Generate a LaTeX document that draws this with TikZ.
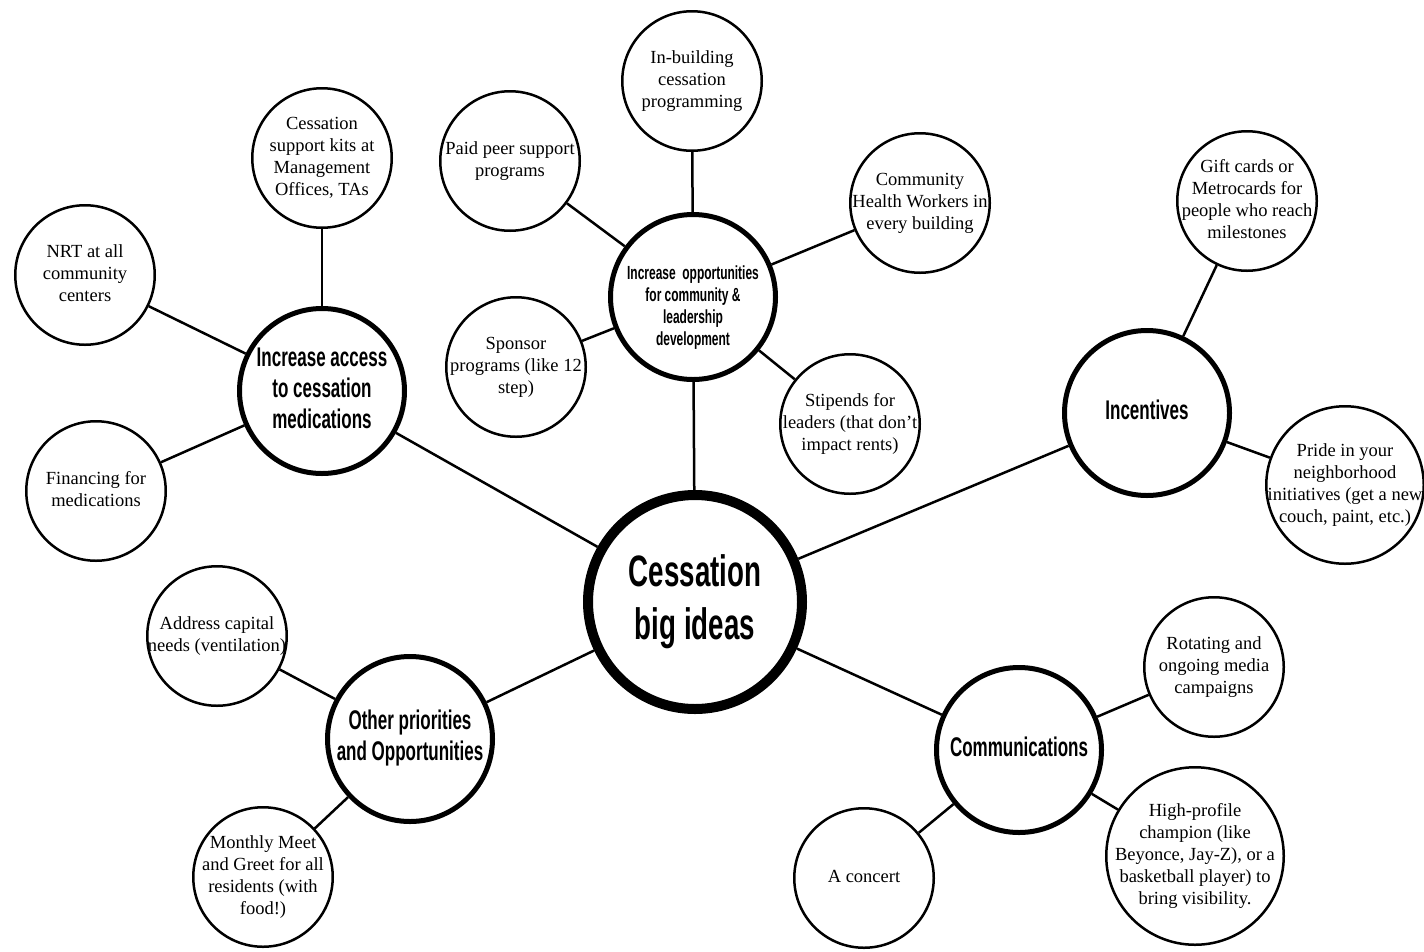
\documentclass[tikz,border=0pt]{standalone}
\usepackage{fontspec}
\setmainfont{Liberation Serif}
\newfontfamily\hubfont[FakeStretch=0.63]{Liberation Sans Bold}
\newcommand{\lines}[1]{\makebox[0pt]{\begin{tabular}{@{}c@{}}#1\end{tabular}}}

\begin{document}
\begin{tikzpicture}[x=1pt, y=-1pt,
    leaf/.style={circle, draw, line width=2.5pt, inner sep=0pt, minimum size=139.5pt, font=\fontsize{18.5}{22}\selectfont},
    hub/.style={circle, draw, line width=5pt, inner sep=0pt, minimum size=165pt, font=\hubfont\fontsize{27}{31}\selectfont},
    link/.style={line width=2.5pt}]

    \useasboundingbox (0,0) rectangle (1424,951);

    % centre and hubs
    \node[circle, draw, line width=10pt, inner sep=0pt, minimum size=214pt, font=\hubfont\fontsize{44}{53}\selectfont] at (695,602) (big) {\lines{Cessation\\big ideas}};
    \node[hub] at (322,391) (access) {\lines{Increase access\\to cessation\\medications}};
    \node[hub, font=\hubfont\fontsize{19}{22}\selectfont] at (693,297) (opport) {\raisebox{-15pt}[0pt][0pt]{\lines{Increase~ opportunities\\for community \&\\leadership\\development}}};
    \node[hub] at (1147,413) (incent) {\lines{Incentives}};
    \node[hub] at (410,739) (other) {\lines{Other priorities\\and Opportunities}};
    \node[hub] at (1019,750) (comms) {\lines{Communications}};

    % leaves
    \node[leaf] at (322,158) (kits) {\lines{Cessation\\support kits at\\Management\\Offices, TAs}};
    \node[leaf] at (85,275) (nrt) {\lines{NRT at all\\community\\centers}};
    \node[leaf] at (96,491) (financing) {\lines{Financing for\\medications}};
    \node[leaf] at (510,161) (peer) {\lines{Paid peer support\\programs}};
    \node[leaf] at (692,81) (inbuilding) {\lines{In-building\\cessation\\programming}};
    \node[leaf] at (920,203) (workers) {\lines{Community\\Health Workers in\\every building}};
    \node[leaf] at (516,367) (sponsor) {\lines{Sponsor\\programs (like 12\\step)}};
    \node[leaf] at (850,424) (stipends) {\lines{Stipends for\\leaders (that don't\\impact rents)}};
    \node[leaf] at (1247,201) (giftcards) {\lines{Gift cards or\\Metrocards for\\people who reach\\milestones}};
    \node[leaf, minimum size=157.5pt] at (1345,485) (pride) {\lines{Pride in your\\neighborhood\\initiatives (get a new\\couch, paint, etc.)}};
    \node[leaf] at (217,636) (capital) {\lines{Address capital\\needs (ventilation)}};
    \node[leaf] at (263,877) (meetgreet) {\lines{Monthly Meet\\and Greet for all\\residents (with\\food!)}};
    \node[leaf] at (1214,667) (media) {\lines{Rotating and\\ongoing media\\campaigns}};
    \node[leaf, minimum size=177.5pt] at (1195,856) (champion) {\lines{High-profile\\champion (like\\Beyonce, Jay-Z), or a\\basketball player) to\\bring visibility.}};
    \node[leaf] at (864,878) (concert) {\lines{A concert}};

    % links
    \draw[link] (big) -- (access);
    \draw[link] (big) -- (opport);
    \draw[link] (big) -- (incent);
    \draw[link] (big) -- (other);
    \draw[link] (big) -- (comms);

    \draw[link] (access) -- (kits);
    \draw[link] (access) -- (nrt);
    \draw[link] (access) -- (financing);

    \draw[link] (opport) -- (peer);
    \draw[link] (opport) -- (inbuilding);
    \draw[link] (opport) -- (workers);
    \draw[link] (opport) -- (sponsor);
    \draw[link] (opport) -- (stipends);

    \draw[link] (incent) -- (giftcards);
    \draw[link] (incent) -- (pride);

    \draw[link] (other) -- (capital);
    \draw[link] (other) -- (meetgreet);

    \draw[link] (comms) -- (media);
    \draw[link] (comms) -- (champion);
    \draw[link] (comms) -- (concert);

\end{tikzpicture}
\end{document}
